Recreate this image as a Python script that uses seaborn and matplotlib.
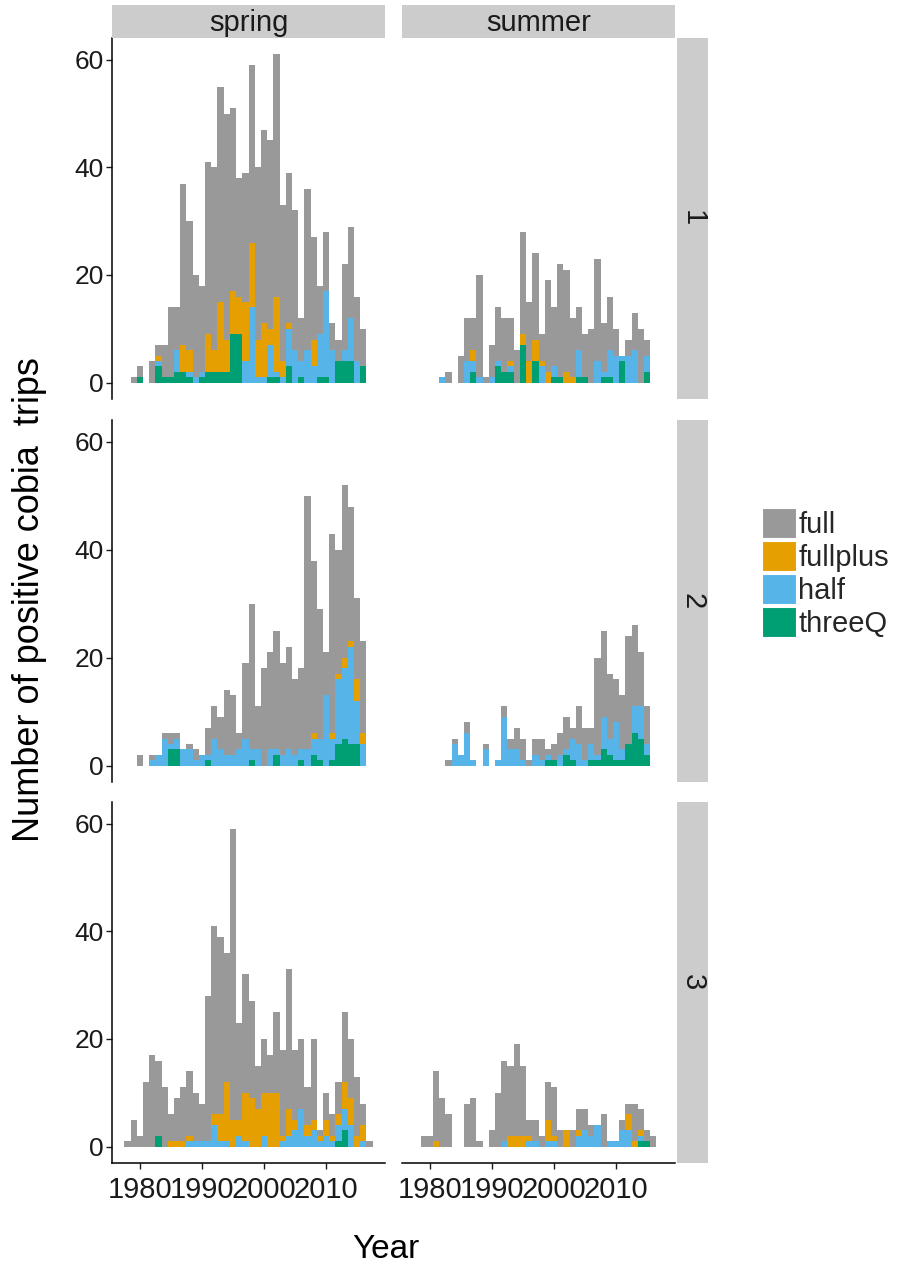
import matplotlib
matplotlib.use("Agg")
import matplotlib.pyplot as plt
import pandas as pd
import seaborn as sns
from matplotlib.patches import Patch

# years on the x axis (one bar per year)
years = list(range(1978, 2018))
trip_types = ['full', 'fullplus', 'half', 'threeQ']
type_colors = ['#999999', '#E69F00', '#56B4E9', '#009E73']
seasons = ['spring', 'summer']
areas = ['1', '2', '3']

# trips per year 1978-2017, area 1
a1_spring_full = [0, 1, 2, 0, 4, 2, 6, 13, 8, 30, 24, 19, 16, 32, 34, 40, 42, 34, 22, 24,
                  33, 32, 36, 35, 45, 29, 28, 26, 8, 30, 19, 9, 11, 5, 4, 16, 17, 12, 7, 0]
a1_spring_fullplus = [0, 0, 0, 0, 0, 1, 0, 0, 0, 5, 4, 0, 0, 7, 4, 13, 6, 8, 7, 11,
                      12, 7, 10, 3, 14, 3, 1, 0, 0, 0, 5, 0, 0, 0, 0, 0, 0, 0, 0, 0]
a1_spring_half = [0, 0, 0, 0, 0, 1, 0, 0, 4, 0, 1, 1, 1, 0, 0, 0, 0, 0, 0, 4,
                  14, 1, 1, 6, 1, 1, 7, 6, 3, 6, 3, 8, 16, 6, 0, 2, 8, 4, 0, 0]
a1_spring_threeQ = [0, 0, 1, 0, 0, 3, 1, 1, 2, 2, 1, 0, 1, 2, 2, 2, 2, 9, 9, 0,
                    0, 0, 0, 1, 1, 0, 3, 0, 1, 0, 0, 1, 1, 0, 4, 4, 4, 0, 3, 0]

a1_summer_full = [0, 0, 0, 0, 0, 2, 0, 5, 8, 6, 19, 1, 6, 10, 10, 8, 6, 19, 11, 16,
                  5, 17, 11, 21, 19, 11, 8, 8, 10, 19, 9, 10, 5, 0, 3, 7, 10, 3, 0, 0]
a1_summer_fullplus = [0, 0, 0, 0, 0, 0, 0, 0, 0, 2, 0, 0, 0, 0, 0, 1, 0, 2, 4, 4,
                      1, 2, 0, 0, 2, 1, 0, 0, 0, 0, 0, 0, 0, 0, 0, 0, 0, 0, 0, 0]
a1_summer_half = [0, 0, 0, 0, 1, 0, 0, 0, 4, 2, 1, 0, 1, 1, 0, 1, 0, 0, 0, 0,
                  3, 0, 2, 0, 0, 0, 5, 0, 0, 4, 1, 5, 5, 1, 5, 6, 0, 3, 0, 0]
a1_summer_threeQ = [0, 0, 0, 0, 0, 0, 0, 0, 0, 2, 0, 0, 0, 3, 2, 2, 0, 7, 0, 4,
                    0, 0, 1, 1, 0, 0, 1, 1, 0, 0, 1, 1, 0, 4, 0, 0, 0, 2, 0, 0]

# area 2
a2_spring_full = [0, 0, 2, 0, 1, 0, 1, 2, 1, 0, 1, 2, 0, 5, 6, 6, 12, 11, 3, 14,
                  27, 8, 18, 18, 22, 17, 19, 14, 15, 47, 32, 24, 8, 37, 23, 32, 25, 15, 17, 0]
a2_spring_fullplus = [0, 0, 0, 0, 0, 0, 0, 0, 0, 0, 0, 0, 0, 0, 0, 0, 0, 0, 0, 0,
                      0, 0, 0, 0, 0, 0, 0, 0, 0, 0, 1, 0, 0, 1, 1, 2, 1, 4, 2, 0]
a2_spring_half = [0, 0, 0, 0, 1, 2, 5, 1, 2, 3, 3, 1, 2, 1, 5, 3, 2, 2, 3, 5,
                  2, 3, 0, 3, 1, 2, 3, 2, 2, 3, 3, 4, 13, 4, 12, 13, 18, 8, 4, 0]
a2_spring_threeQ = [0, 0, 0, 0, 0, 0, 0, 3, 3, 0, 0, 0, 0, 1, 0, 0, 0, 0, 0, 0,
                    1, 0, 0, 0, 2, 0, 0, 0, 1, 0, 2, 1, 0, 1, 4, 5, 4, 4, 0, 0]

a2_summer_full = [0, 0, 0, 0, 0, 1, 1, 0, 2, 0, 0, 1, 0, 0, 2, 2, 4, 4, 1, 3,
                  4, 1, 3, 4, 6, 2, 7, 6, 3, 18, 16, 12, 8, 10, 20, 15, 10, 7, 0, 0]
a2_summer_fullplus = [0] * 40
a2_summer_half = [0, 0, 0, 0, 0, 0, 4, 2, 6, 1, 0, 3, 0, 1, 9, 3, 3, 1, 0, 2,
                  1, 1, 0, 2, 1, 4, 4, 1, 3, 1, 6, 3, 7, 2, 0, 5, 6, 2, 0, 0]
a2_summer_threeQ = [0, 0, 0, 0, 0, 0, 0, 0, 0, 0, 0, 0, 0, 0, 0, 0, 0, 0, 0, 0,
                    0, 1, 1, 0, 2, 1, 0, 0, 1, 1, 3, 2, 1, 1, 4, 6, 5, 2, 0, 0]

# area 3
a3_spring_full = [1, 5, 2, 12, 17, 14, 11, 5, 8, 10, 12, 9, 7, 27, 35, 33, 24, 54, 18, 22,
                  18, 8, 10, 7, 15, 16, 26, 13, 13, 7, 15, 1, 5, 4, 6, 13, 11, 11, 4, 1]
a3_spring_fullplus = [0, 0, 0, 0, 0, 0, 0, 1, 1, 1, 1, 0, 0, 0, 2, 5, 11, 5, 3, 9,
                      9, 7, 8, 10, 10, 1, 5, 2, 0, 2, 2, 1, 3, 1, 2, 5, 5, 2, 3, 0]
a3_spring_half = [0, 0, 0, 0, 0, 0, 0, 0, 0, 0, 1, 1, 1, 1, 4, 1, 1, 0, 2, 1,
                  0, 0, 2, 0, 0, 1, 2, 3, 7, 2, 3, 1, 2, 1, 3, 4, 4, 0, 1, 0]
a3_spring_threeQ = [0, 0, 0, 0, 0, 2, 0, 0, 0, 0, 0, 0, 0, 0, 0, 0, 0, 0, 0, 0,
                    0, 0, 0, 0, 0, 0, 0, 0, 0, 0, 0, 0, 0, 0, 1, 3, 0, 0, 0, 0]

a3_summer_full = [0, 2, 2, 13, 9, 6, 0, 0, 8, 9, 1, 0, 3, 10, 15, 13, 17, 13, 3, 4,
                  2, 7, 9, 3, 0, 3, 4, 4, 2, 0, 6, 0, 0, 2, 2, 7, 4, 2, 2, 0]
a3_summer_fullplus = [0, 0, 0, 1, 0, 0, 0, 0, 0, 0, 0, 0, 0, 0, 0, 2, 2, 2, 1, 0,
                      0, 4, 1, 0, 3, 0, 1, 0, 0, 0, 0, 0, 0, 0, 3, 1, 1, 0, 0, 0]
a3_summer_half = [0, 0, 0, 0, 0, 0, 0, 0, 0, 0, 0, 0, 0, 0, 1, 0, 0, 0, 1, 1,
                  0, 1, 1, 0, 0, 0, 2, 3, 2, 4, 0, 1, 1, 3, 3, 0, 1, 0, 0, 0]
a3_summer_threeQ = [0, 0, 0, 0, 0, 0, 0, 0, 0, 0, 0, 0, 0, 0, 0, 0, 0, 0, 0, 0,
                    0, 0, 0, 0, 0, 0, 0, 0, 0, 0, 0, 0, 0, 0, 0, 0, 1, 1, 0, 0]

panel_counts = {
    ('1', 'spring'): [a1_spring_full, a1_spring_fullplus, a1_spring_half, a1_spring_threeQ],
    ('1', 'summer'): [a1_summer_full, a1_summer_fullplus, a1_summer_half, a1_summer_threeQ],
    ('2', 'spring'): [a2_spring_full, a2_spring_fullplus, a2_spring_half, a2_spring_threeQ],
    ('2', 'summer'): [a2_summer_full, a2_summer_fullplus, a2_summer_half, a2_summer_threeQ],
    ('3', 'spring'): [a3_spring_full, a3_spring_fullplus, a3_spring_half, a3_spring_threeQ],
    ('3', 'summer'): [a3_summer_full, a3_summer_fullplus, a3_summer_half, a3_summer_threeQ],
}

# long table
rows = []
for (area, season), series in panel_counts.items():
    for ttype, counts in zip(trip_types, series):
        for yr, n in zip(years, counts):
            rows.append((area, season, yr, ttype, n))
df = pd.DataFrame(rows, columns=['Area', 'Season', 'Year', 'Type', 'Trips'])

sns.set_style('white')
plt.rcParams['font.family'] = ['Liberation Sans', 'DejaVu Sans']

W, H = 897, 1270
fig = plt.figure(figsize=(W / 100, H / 100), dpi=100)


def px_axes(x0, y0, x1, y1):
    return fig.add_axes([x0 / W, 1 - y1 / H, (x1 - x0) / W, (y1 - y0) / H])


col_x = {'spring': (112, 385), 'summer': (402, 675)}
row_y = {'1': (38, 399), '2': (420, 782), '3': (802, 1163)}
text_col = '#1a1a1a'
strip_col = '#cccccc'

for area in areas:
    for season in seasons:
        x0, x1 = col_x[season]
        y0, y1 = row_y[area]
        ax = px_axes(x0, y0, x1, y1)
        sub = df[(df['Area'] == area) & (df['Season'] == season)]
        sns.histplot(data=sub, x='Year', weights='Trips', hue='Type',
                     hue_order=trip_types, palette=type_colors,
                     multiple='stack', discrete=True, linewidth=0,
                     alpha=1, legend=False, ax=ax)
        ax.set_xlim(1975.5, 2019.5)
        ax.set_ylim(-3.05, 64.05)
        ax.set_xlabel('')
        ax.set_ylabel('')
        for sp in ['top', 'right']:
            ax.spines[sp].set_visible(False)
        ax.spines['left'].set_visible(season == 'spring')
        ax.spines['bottom'].set_visible(area == '3')
        for sp in ['left', 'bottom']:
            ax.spines[sp].set_color('black')
            ax.spines[sp].set_linewidth(1.1)
        ax.set_yticks([0, 20, 40, 60])
        ax.set_xticks([1980, 1990, 2000, 2010])
        ax.tick_params(axis='both', colors=text_col,
                       length=4, width=1, direction='out')
        ax.tick_params(axis='y', left=(season == 'spring'), labelsize=19,
                       labelleft=(season == 'spring'), pad=2)
        ax.tick_params(axis='x', bottom=(area == '3'), labelsize=21,
                       labelbottom=(area == '3'), pad=5)
        ax.grid(False)

# column strips
for season in seasons:
    x0, x1 = col_x[season]
    st = px_axes(x0, 5, x1, 38)
    st.set_facecolor(strip_col)
    st.set_xticks([])
    st.set_yticks([])
    for sp in st.spines.values():
        sp.set_visible(False)
    st.text(0.5, 0.45, season, ha='center', va='center', fontsize=21,
            color=text_col, transform=st.transAxes)

# row strips
for area in areas:
    y0, y1 = row_y[area]
    st = px_axes(677, y0, 708, y1)
    st.set_facecolor(strip_col)
    st.set_xticks([])
    st.set_yticks([])
    for sp in st.spines.values():
        sp.set_visible(False)
    st.text(0.5, 0.5, area, ha='center', va='center', fontsize=21,
            rotation=-90, color=text_col, transform=st.transAxes)

fig.text(30 / W, 1 - 600 / H, 'Number of positive cobia  trips', rotation=90,
         ha='center', va='center', fontsize=26, color='black')
fig.text(386 / W, 1 - 1250 / H, 'Year', ha='center', va='center',
         fontsize=24, color='black')

handles = [Patch(facecolor=c, edgecolor='white', linewidth=0.8) for c in type_colors]
fig.legend(handles, trip_types, loc='upper left',
           bbox_to_anchor=(762 / W, 1 - 508 / H), frameon=False,
           fontsize=21, handlelength=1.15, handleheight=1.2,
           handletextpad=0.1, labelspacing=0.08, borderpad=0,
           borderaxespad=0)

plt.savefig('out.png', dpi=100)
